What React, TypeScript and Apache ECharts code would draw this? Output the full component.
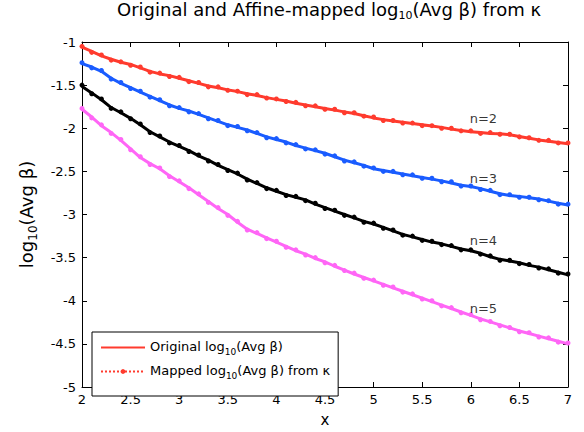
import React, { useEffect, useRef } from "react";
import * as echarts from "echarts";

const FONT = "DejaVu Sans";

const xs = [
  2.0, 2.1, 2.2, 2.3, 2.4, 2.5, 2.6, 2.7, 2.8, 2.9,
  3.0, 3.1, 3.2, 3.3, 3.4, 3.5, 3.6, 3.7, 3.8, 3.9,
  4.0, 4.1, 4.2, 4.3, 4.4, 4.5, 4.6, 4.7, 4.8, 4.9,
  5.0, 5.1, 5.2, 5.3, 5.4, 5.5, 5.6, 5.7, 5.8, 5.9,
  6.0, 6.1, 6.2, 6.3, 6.4, 6.5, 6.6, 6.7, 6.8, 6.9,
  7.0,
];

const original2 = [
  -1.06, -1.11, -1.16, -1.2, -1.235, -1.26, -1.3, -1.34, -1.37, -1.39,
  -1.42, -1.45, -1.48, -1.51, -1.53, -1.555, -1.575, -1.6, -1.62, -1.645,
  -1.665, -1.685, -1.71, -1.73, -1.75, -1.77, -1.79, -1.81, -1.83, -1.855,
  -1.88, -1.9, -1.915, -1.93, -1.945, -1.96, -1.975, -1.99, -2.01, -2.025,
  -2.04, -2.05, -2.06, -2.065, -2.075, -2.095, -2.115, -2.135, -2.15, -2.165,
  -2.18,
];
const mapped2 = [
  -1.05, -1.12, -1.15, -1.21, -1.23, -1.27, -1.29, -1.35, -1.36, -1.4,
  -1.41, -1.46, -1.47, -1.52, -1.52, -1.56, -1.57, -1.61, -1.61, -1.65,
  -1.66, -1.69, -1.7, -1.74, -1.74, -1.78, -1.78, -1.82, -1.82, -1.86,
  -1.87, -1.91, -1.91, -1.94, -1.94, -1.97, -1.97, -2.0, -2.0, -2.03,
  -2.03, -2.06, -2.05, -2.07, -2.07, -2.1, -2.11, -2.14, -2.14, -2.17,
  -2.17,
];

const original3 = [
  -1.25, -1.29, -1.34, -1.42, -1.48, -1.53, -1.58, -1.63, -1.68, -1.73,
  -1.77, -1.8, -1.84, -1.88, -1.92, -1.96, -1.99, -2.02, -2.06, -2.1,
  -2.13, -2.16, -2.2, -2.23, -2.26, -2.29, -2.33, -2.37, -2.4, -2.43,
  -2.47, -2.49, -2.51, -2.53, -2.55, -2.57, -2.59, -2.61, -2.635, -2.66,
  -2.675, -2.7, -2.73, -2.76, -2.78, -2.79, -2.805, -2.82, -2.845, -2.87,
  -2.89,
];
const mapped3 = [
  -1.24, -1.3, -1.33, -1.43, -1.47, -1.54, -1.57, -1.64, -1.67, -1.74,
  -1.76, -1.81, -1.83, -1.89, -1.91, -1.97, -1.98, -2.03, -2.05, -2.11,
  -2.12, -2.17, -2.19, -2.24, -2.25, -2.3, -2.32, -2.38, -2.39, -2.44,
  -2.46, -2.5, -2.5, -2.54, -2.54, -2.58, -2.58, -2.62, -2.62, -2.67,
  -2.67, -2.71, -2.72, -2.77, -2.77, -2.8, -2.8, -2.83, -2.84, -2.88,
  -2.88,
];

const original4 = [
  -1.515, -1.59, -1.67, -1.76, -1.82, -1.885, -1.96, -2.04, -2.1, -2.16,
  -2.21, -2.26, -2.32, -2.37, -2.43, -2.48, -2.53, -2.59, -2.64, -2.69,
  -2.73, -2.77, -2.8, -2.83, -2.88, -2.92, -2.96, -3.0, -3.04, -3.08,
  -3.11, -3.15, -3.19, -3.23, -3.26, -3.29, -3.32, -3.34, -3.37, -3.4,
  -3.42, -3.45, -3.49, -3.52, -3.54, -3.56, -3.59, -3.61, -3.64, -3.67,
  -3.7,
];
const mapped4 = [
  -1.5, -1.6, -1.66, -1.77, -1.81, -1.89, -1.95, -2.05, -2.09, -2.17,
  -2.2, -2.27, -2.31, -2.38, -2.42, -2.49, -2.52, -2.6, -2.63, -2.7,
  -2.72, -2.78, -2.79, -2.84, -2.87, -2.93, -2.95, -3.01, -3.03, -3.09,
  -3.1, -3.16, -3.18, -3.24, -3.25, -3.3, -3.31, -3.35, -3.36, -3.41,
  -3.41, -3.46, -3.48, -3.53, -3.53, -3.57, -3.58, -3.62, -3.63, -3.68,
  -3.69,
];

const original5 = [
  -1.78, -1.87, -1.97, -2.05, -2.14, -2.24, -2.34, -2.41, -2.47, -2.55,
  -2.62, -2.69, -2.77, -2.85, -2.93, -3.0, -3.09, -3.17, -3.22, -3.27,
  -3.32, -3.37, -3.42, -3.46, -3.51, -3.55, -3.6, -3.645, -3.69, -3.73,
  -3.77, -3.81, -3.85, -3.89, -3.93, -3.97, -4.01, -4.05, -4.09, -4.13,
  -4.17, -4.21, -4.245, -4.28, -4.315, -4.35, -4.38, -4.41, -4.44, -4.47,
  -4.5,
];
const mapped5 = [
  -1.77, -1.88, -1.96, -2.06, -2.13, -2.25, -2.33, -2.42, -2.46, -2.56,
  -2.61, -2.7, -2.76, -2.86, -2.92, -3.01, -3.08, -3.18, -3.21, -3.28,
  -3.31, -3.38, -3.41, -3.47, -3.5, -3.56, -3.59, -3.65, -3.68, -3.74,
  -3.76, -3.82, -3.84, -3.9, -3.92, -3.98, -4.0, -4.06, -4.08, -4.14,
  -4.16, -4.22, -4.24, -4.29, -4.31, -4.36, -4.37, -4.42, -4.43, -4.48,
  -4.49,
];

const curveNames = ["n=2", "n=3", "n=4", "n=5"];
const curveColors = ["#ff3b2e", "#1a5cff", "#000000", "#ff66f6"];
const labelX = [6.13, 6.13, 6.13, 6.13];
const labelY = [-1.89, -2.58, -3.3, -4.09];

const xTicks = { min: 2, max: 7, interval: 0.5 };
const yTicks = { min: -5, max: -1, interval: 0.5 };

const ORIG_NAME = "Original log10(Avg β)";
const MAP_NAME = "Mapped log10(Avg β) from κ";

function pairs(ys: number[]) {
  return xs.map((x, i) => [x, ys[i]]);
}

export default function App() {
  const ref = useRef<HTMLDivElement>(null);
  useEffect(() => {
    if (!ref.current) return;
    const chart = echarts.init(ref.current, undefined, { renderer: "svg" });
    const originals = [original2, original3, original4, original5];
    const mappeds = [mapped2, mapped3, mapped4, mapped5];

    const series: any[] = [];
    originals.forEach((ys, k) => {
      series.push({
        type: "line",
        name: k === 0 ? ORIG_NAME : "Original " + curveNames[k],
        data: pairs(ys),
        symbol: "none",
        lineStyle: { color: curveColors[k], width: 3 },
        itemStyle: { color: curveColors[k] },
        z: 2,
      });
    });
    mappeds.forEach((ys, k) => {
      series.push({
        type: "line",
        name: k === 0 ? MAP_NAME : "Mapped " + curveNames[k],
        data: pairs(ys),
        symbol: "circle",
        symbolSize: 5,
        showSymbol: true,
        lineStyle: { color: curveColors[k], width: 1.5, type: "dotted" },
        itemStyle: { color: curveColors[k] },
        z: 3,
      });
    });
    series.push({
      type: "scatter",
      name: "labels",
      data: labelX.map((x, i) => [x, labelY[i]]),
      symbolSize: 0,
      itemStyle: { color: "#000" },
      label: {
        show: true,
        position: "inside",
        formatter: (p: any) => curveNames[p.dataIndex],
        color: "#000",
        textBorderWidth: 0,
        textBorderColor: "transparent",
        fontSize: 13,
        fontFamily: FONT,
      },
      z: 5,
    });

    const axisCommon = {
      type: "value",
      axisLine: { show: true, onZero: false, lineStyle: { color: "#000", width: 1 } },
      axisTick: { show: true, inside: true, length: 5, lineStyle: { color: "#000" } },
      splitLine: { show: false },
    };
    const labelStyle = { color: "#000", fontSize: 13, fontFamily: FONT };

    chart.setOption({
      animation: false,
      backgroundColor: "#fff",
      textStyle: { fontFamily: FONT },
      grid: { left: 82, right: 16, top: 42, bottom: 38 },
      graphic: [
        {
          type: "text",
          x: 329,
          y: 0,
          style: {
            text: "{a|Original and Affine-mapped log}{s|10}{a|(Avg β) from κ}",
            align: "center",
            rich: {
              a: { fontSize: 18, fontFamily: FONT, fill: "#000", color: "#000", lineHeight: 20, verticalAlign: "top" },
              s: { fontSize: 11, fontFamily: FONT, fill: "#000", color: "#000", lineHeight: 12, verticalAlign: "top", padding: [10, 0, 0, 0] },
            },
          },
        },
      ],
      legend: {
        data: [
          { name: ORIG_NAME, itemStyle: { opacity: 0 } },
          { name: MAP_NAME },
        ],
        orient: "vertical",
        left: 92,
        top: 332,
        itemWidth: 44,
        itemHeight: 6,
        itemGap: 8,
        padding: [8, 8, 16, 8],
        borderColor: "#000",
        borderWidth: 1,
        backgroundColor: "#fff",
        formatter: (name: string) =>
          name === ORIG_NAME
            ? "{a|Original log}{s|10}{a|(Avg β)}"
            : "{a|Mapped log}{s|10}{a|(Avg β) from κ}",
        textStyle: {
          color: "#000",
          rich: {
            a: { fontSize: 13, fontFamily: FONT, color: "#000", lineHeight: 15, verticalAlign: "top" },
            s: { fontSize: 9, fontFamily: FONT, color: "#000", lineHeight: 10, verticalAlign: "top", padding: [7, 0, 0, 0] },
          },
        },
      },
      xAxis: [
        {
          ...axisCommon,
          ...xTicks,
          position: "bottom",
          axisLabel: { ...labelStyle, margin: 6 },
          name: "x",
          nameLocation: "middle",
          nameGap: 25,
          nameTextStyle: { color: "#000", fontSize: 15, fontFamily: FONT },
        },
        {
          ...axisCommon,
          ...xTicks,
          position: "top",
          axisLabel: { show: false },
        },
      ],
      yAxis: [
        {
          ...axisCommon,
          ...yTicks,
          position: "left",
          axisLabel: { ...labelStyle, margin: 6 },
          name: "{a|log}{s|10}{a|(Avg β)}",
          nameLocation: "middle",
          nameRotate: 90,
          nameGap: 44,
          nameTextStyle: {
            rich: {
              a: { fontSize: 18, fontFamily: FONT, color: "#000", lineHeight: 21, verticalAlign: "top" },
              s: { fontSize: 12, fontFamily: FONT, color: "#000", lineHeight: 13, verticalAlign: "top", padding: [10, 0, 0, 0] },
            },
          },
        },
        {
          ...axisCommon,
          ...yTicks,
          position: "right",
          axisLabel: { show: false },
        },
      ],
      series,
    });
    return () => chart.dispose();
  }, []);
  return (
    <div
      ref={ref}
      style={{ position: "fixed", left: 0, top: 0, width: 584, height: 432 }}
    />
  );
}
